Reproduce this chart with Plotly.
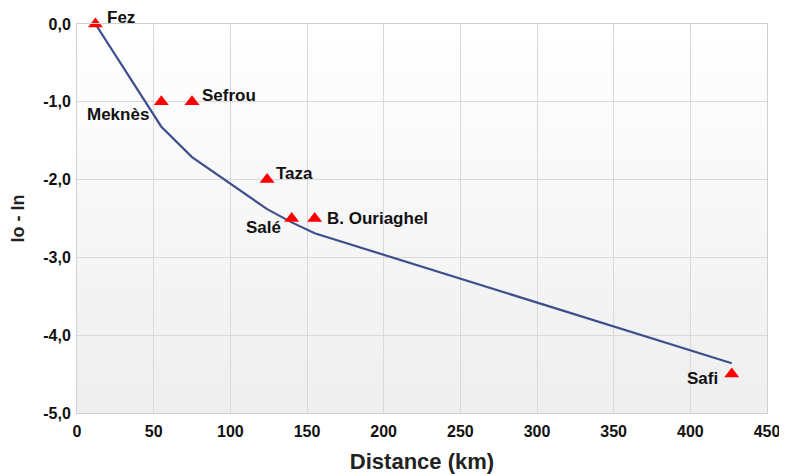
import plotly.graph_objects as go

# Data
cities = ["Fez", "Meknès", "Sefrou", "Taza", "Salé", "B. Ouriaghel", "Safi"]
dist_km = [12, 55, 75, 124, 140, 155, 427]
io_in = [0.0, -1.0, -1.0, -2.0, -2.5, -2.5, -4.5]

fit_x = [12, 55, 75, 124, 140, 155, 427]
fit_y = [0.0, -1.32, -1.71, -2.38, -2.55, -2.69, -4.36]

x_ticks = [0, 50, 100, 150, 200, 250, 300, 350, 400, 450]
y_ticks = [0, -1, -2, -3, -4, -5]

# label placement (style)
label_style = {
    "Fez": dict(xanchor="left", yanchor="middle", xshift=10, yshift=7),
    "Meknès": dict(xanchor="right", yanchor="middle", xshift=-10, yshift=-13),
    "Sefrou": dict(xanchor="left", yanchor="middle", xshift=8, yshift=6),
    "Taza": dict(xanchor="left", yanchor="middle", xshift=7, yshift=6),
    "Salé": dict(xanchor="right", yanchor="middle", xshift=-9, yshift=-9),
    "B. Ouriaghel": dict(xanchor="left", yanchor="middle", xshift=10, yshift=0),
    "Safi": dict(xanchor="right", yanchor="middle", xshift=-12, yshift=-4),
}

fig = go.Figure()

# gradient background bands
n = 30
for i in range(n):
    g = int(255 - 16 * (i / (n - 1)))
    fig.add_shape(type="rect", xref="x domain", yref="y domain",
                  x0=0, x1=1, y0=1 - (i + 1) / n, y1=1 - i / n,
                  fillcolor=f"rgb({g},{g},{g})", line_width=0, layer="below")

fig.add_trace(go.Scatter(x=fit_x, y=fit_y, mode="lines",
                         line=dict(color="#3D4F8C", width=2.2),
                         hoverinfo="skip", showlegend=False))
fig.add_trace(go.Scatter(x=dist_km, y=io_in, mode="markers",
                         marker=dict(symbol="triangle-up", size=13, color="#FF0000",
                                     line=dict(width=0)),
                         cliponaxis=False, showlegend=False))

for c, x, y in zip(cities, dist_km, io_in):
    fig.add_annotation(x=x, y=y, text=f"<b>{c}</b>", showarrow=False,
                       font=dict(family="Liberation Sans, Arial", size=17, color="#111111"),
                       **label_style[c])

tick_font = dict(family="Liberation Sans, Arial", size=16, color="#111111")

fig.update_layout(
    width=779, height=466,
    margin=dict(l=69, r=20, t=16, b=61),
    paper_bgcolor="white",
    plot_bgcolor="rgba(0,0,0,0)",
    separators=",.",
    showlegend=False,
)
fig.update_xaxes(range=[0, 450], tickvals=x_ticks,
                 ticktext=[f"<b>{t}</b>" for t in x_ticks],
                 showgrid=True, automargin=False,
                 gridcolor="#D9D9D9", gridwidth=1, zeroline=False,
                 showline=True, linecolor="#D0D0D0", mirror=True,
                 ticks="", ticklen=0, tickfont=tick_font, ticklabelstandoff=4,
                 title=dict(text="<b>Distance (km)</b>", standoff=16,
                            font=dict(family="Liberation Sans, Arial", size=22, color="#222222")))
fig.update_yaxes(range=[-5, 0], tickvals=y_ticks,
                 ticktext=[f"<b>{t:.1f}</b>".replace(".", ",") for t in y_ticks],
                 showgrid=True, automargin=False,
                 gridcolor="#D9D9D9", gridwidth=1, zeroline=False,
                 showline=True, linecolor="#D0D0D0", mirror=True,
                 ticks="", ticklen=0, tickfont=tick_font, ticklabelstandoff=2,
                 title=dict(text="<b>Io - In</b>", standoff=18,
                            font=dict(family="Liberation Sans, Arial", size=18, color="#222222")))

fig.write_html("out.html")
